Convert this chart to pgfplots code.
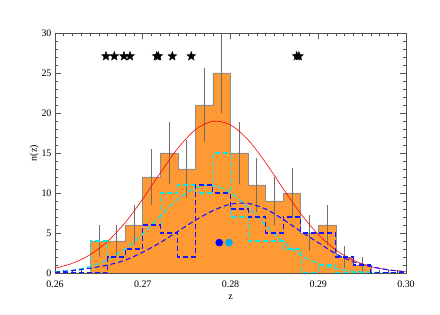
\documentclass[border=0pt]{standalone}
\usepackage{pgfplots}
\pgfplotsset{compat=1.18}
\usepackage{fontspec}
\setmainfont{Liberation Serif}
\definecolor{historange}{RGB}{255,153,51}
\definecolor{axgray}{RGB}{80,80,80}
\definecolor{errgray}{RGB}{110,110,110}
\definecolor{cyn}{RGB}{0,235,235}
\definecolor{blu}{RGB}{20,20,255}
\pgfdeclareplotmark{fstar}{%
 \pgfpathmoveto{\pgfpointpolar{90}{\pgfplotmarksize}}%
 \pgfpathlineto{\pgfpointpolar{126}{0.42\pgfplotmarksize}}%
 \pgfpathlineto{\pgfpointpolar{162}{\pgfplotmarksize}}%
 \pgfpathlineto{\pgfpointpolar{198}{0.42\pgfplotmarksize}}%
 \pgfpathlineto{\pgfpointpolar{234}{\pgfplotmarksize}}%
 \pgfpathlineto{\pgfpointpolar{270}{0.42\pgfplotmarksize}}%
 \pgfpathlineto{\pgfpointpolar{306}{\pgfplotmarksize}}%
 \pgfpathlineto{\pgfpointpolar{342}{0.42\pgfplotmarksize}}%
 \pgfpathlineto{\pgfpointpolar{18}{\pgfplotmarksize}}%
 \pgfpathlineto{\pgfpointpolar{54}{0.42\pgfplotmarksize}}%
 \pgfpathclose\pgfusepathqfillstroke}
\begin{document}
\begin{tikzpicture}
\begin{axis}[
  scale only axis,
  width=351bp, height=240bp,
  xmin=0.26, xmax=0.30, ymin=0, ymax=30,
  xtick={0.26,0.27,0.28,0.29,0.30},
  minor x tick num=9,
  ytick={0,5,10,15,20,25,30},
  minor y tick num=4,
  scaled x ticks=false,
  tick align=inside,
  major tick length=6bp, minor tick length=3bp,
  axis line style={axgray, line width=0.8pt},
  every tick/.style={axgray, line width=0.6pt},
  xticklabel style={yshift=-4bp, /pgf/number format/fixed, /pgf/number format/precision=2, /pgf/number format/fixed zerofill},
  /pgf/number format/assume math mode=true,
  tick label style={font=\fontsize{10}{12}\selectfont},
  label style={font=\fontsize{10}{12}\selectfont},
  xlabel={z}, ylabel={n(z)},
  xlabel style={yshift=-1bp},
  ylabel style={yshift=-4bp},
]
% observed histogram
\addplot[const plot mark left, fill=historange, draw=black!45, line width=0.6pt] coordinates {
 (0.264,4) (0.266,4) (0.268,6) (0.270,12) (0.272,15) (0.274,13) (0.276,21) (0.278,25)
 (0.280,15) (0.282,11) (0.284,9) (0.286,10) (0.288,5) (0.290,6) (0.292,2) (0.294,1) (0.296,1)
} \closedcycle;
% Poisson error bars
\addplot[draw=none, no markers, error bars/.cd, y dir=both, y explicit, error mark=none,
  error bar style={draw=errgray, line width=0.7pt, solid}] coordinates {
 (0.265,4) +- (0,2)
 (0.267,4) +- (0,2)
 (0.269,6) +- (0,2.449)
 (0.271,12) +- (0,3.464)
 (0.273,15) +- (0,3.873)
 (0.275,13) +- (0,3.606)
 (0.277,21) +- (0,4.583)
 (0.279,25) +- (0,5)
 (0.281,15) +- (0,3.873)
 (0.283,11) +- (0,3.317)
 (0.285,9) +- (0,3)
 (0.287,10) +- (0,3.162)
 (0.289,5) +- (0,2.236)
 (0.291,6) +- (0,2.449)
 (0.293,2) +- (0,1.414)
 (0.295,1) +- (0,1)
};
% red gaussian fit
\addplot[draw=red, no markers, line width=0.6pt, smooth] coordinates {
 (0.260,0.60) (0.262,1.22) (0.264,2.29) (0.266,3.96) (0.268,6.30) (0.270,9.25)
 (0.272,12.51) (0.274,15.59) (0.276,17.92) (0.278,18.97) (0.280,18.51) (0.282,16.65)
 (0.284,13.80) (0.286,10.54) (0.288,7.42) (0.290,4.81) (0.292,2.88) (0.294,1.59)
 (0.296,0.81) (0.298,0.38) (0.300,0.16)
};
% cyan histogram
\addplot[const plot mark left, color=cyn, no markers, line width=1.1pt, dash pattern=on 5bp off 3bp] coordinates {
 (0.260,0) (0.262,0) (0.264,4) (0.266,2) (0.268,3) (0.270,6) (0.272,10) (0.274,11)
 (0.276,10) (0.278,15) (0.280,7) (0.282,4) (0.284,4) (0.286,3) (0.288,0) (0.290,1)
 (0.292,0) (0.294,0) (0.296,0) (0.298,0) (0.300,0)
};
% cyan curve
\addplot[color=cyn, no markers, line width=1.1pt, dash pattern=on 5bp off 3bp, smooth] coordinates {
 (0.260,0.14) (0.262,0.35) (0.264,0.80) (0.266,1.65) (0.268,3.01) (0.270,4.90)
 (0.272,7.12) (0.274,9.22) (0.276,10.65) (0.278,10.96) (0.280,10.05) (0.282,8.22)
 (0.284,5.99) (0.286,3.89) (0.288,2.26) (0.290,1.17) (0.292,0.54) (0.294,0.22)
 (0.296,0.08) (0.298,0.03) (0.300,0.01)
};
% blue histogram
\addplot[const plot mark left, color=blu, no markers, line width=1.1pt, dash pattern=on 5bp off 3bp] coordinates {
 (0.260,0) (0.262,0) (0.264,0) (0.266,2) (0.268,3) (0.270,6) (0.272,5) (0.274,2)
 (0.276,11) (0.278,10) (0.280,8) (0.282,7) (0.284,5) (0.286,7) (0.288,5) (0.290,5)
 (0.292,2) (0.294,1) (0.296,0) (0.298,0) (0.300,0)
};
% blue curve
\addplot[color=blu, no markers, line width=1.1pt, dash pattern=on 5bp off 3bp, smooth] coordinates {
 (0.260,0.10) (0.262,0.30) (0.264,0.60) (0.266,1.00) (0.268,1.60) (0.270,2.60)
 (0.272,3.80) (0.274,5.20) (0.276,6.60) (0.278,7.80) (0.280,8.60) (0.282,8.70)
 (0.284,8.00) (0.286,6.70) (0.288,5.20) (0.290,3.80) (0.292,2.40) (0.294,1.40)
 (0.296,0.80) (0.298,0.40) (0.300,0.15)
};
% mean markers
\addplot[only marks, mark=*, mark size=3.6bp, mark options={draw=blue, fill=blue}] coordinates {(0.27872,3.8)};
\addplot[only marks, mark=*, mark size=3.6bp, mark options={draw=cyan, fill=cyan}] coordinates {(0.27983,3.8)};
% stars
\addplot[only marks, mark=fstar, mark size=4.8bp, mark options={draw=black, fill=black, line width=0.3pt}] coordinates {
 (0.26581,27.1) (0.26676,27.1) (0.26786,27.1) (0.26855,27.1)
 (0.27159,27.1) (0.27177,27.1) (0.27337,27.1) (0.27553,27.1)
 (0.28755,27.1) (0.28780,27.1)
};
\end{axis}
\path[draw=none] ([shift={(-55bp,-42bp)}]current axis.south west) rectangle ([shift={(34bp,33bp)}]current axis.north east);
\end{tikzpicture}
\end{document}
